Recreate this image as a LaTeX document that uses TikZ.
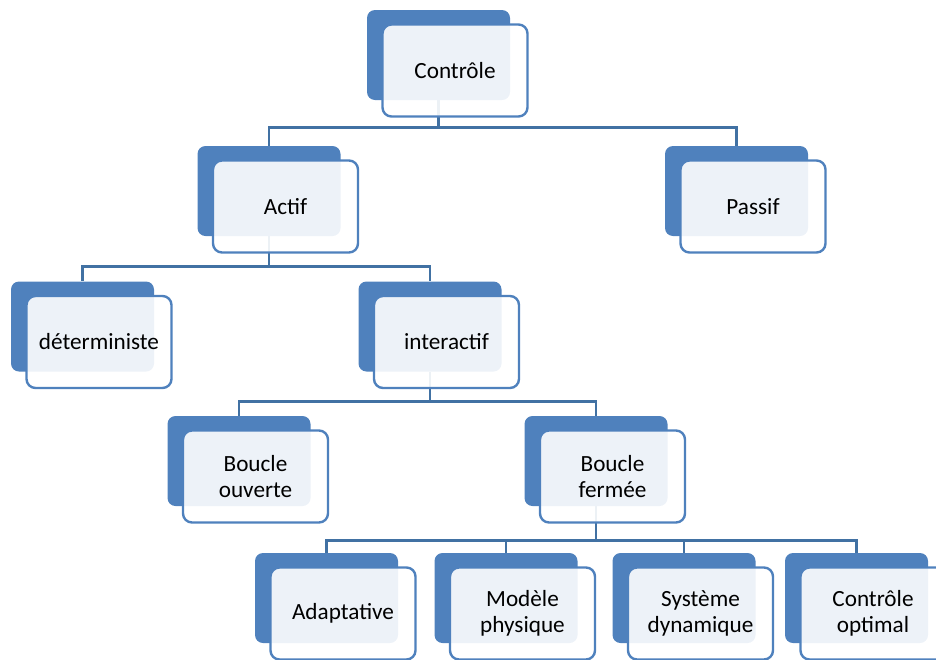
\documentclass[tikz,border=0pt]{standalone}
\usepackage{fontspec}
\setmainfont{Carlito}
\usetikzlibrary{backgrounds}

\definecolor{boxblue}{RGB}{79,129,189}
\definecolor{linkblue}{RGB}{65,113,163}

\tikzset{
  shadowbox/.style={fill=boxblue, rounded corners=8pt, minimum width=143pt,
    minimum height=90pt, inner sep=0pt},
  labelbox/.style={draw=boxblue, line width=2.4pt, fill=white, fill opacity=0.9,
    text opacity=1, rounded corners=9pt, minimum width=145pt, minimum height=92pt,
    inner sep=0pt, align=center, xshift=16.5pt, yshift=-15.5pt,
    font=\fontsize{23.2}{26}\selectfont},
  link/.style={draw=linkblue, line width=2.6pt}
}

\begin{document}
\begin{tikzpicture}[x=1pt, y=-1pt]
    \useasboundingbox (0,0) rectangle (936,659);

    % Boxes of the tree
    \foreach \n/\x/\y/\t in {ctrl/438.5/55/Contrôle,
        actif/269/191/Actif, passif/736.5/191/Passif,
        determ/82.5/326.5/déterministe, interact/430/326.5/interactif,
        bouvert/239/461/Boucle\\ouverte, bferme/596/461/Boucle\\fermée,
        adapt/326.5/598/Adaptative, modele/506/598/Modèle\\physique,
        systeme/684/598/Système\\dynamique, optimal/856.5/598/Contrôle\\optimal} {
        \node[shadowbox] (\n) at (\x,\y) {};
        \node[labelbox] (\n-t) at (\n) {\t};
    }

    % Links
    \begin{scope}[on background layer]
        \draw[link] (ctrl.south) -- ++(0,27) -| (actif.north);
        \draw[link] (ctrl.south) -- ++(0,27) -| (passif.north);
        \draw[link] (actif.south) -- ++(0,30) -| (determ.north);
        \draw[link] (actif.south) -- ++(0,30) -| (interact.north);
        \draw[link] (interact.south) -- ++(0,30) -| (bouvert.north);
        \draw[link] (interact.south) -- ++(0,30) -| (bferme.north);
        \foreach \c in {adapt, modele, systeme, optimal}
            \draw[link] (bferme.south) -- ++(0,34) -| (\c.north);
    \end{scope}
\end{tikzpicture}
\end{document}
